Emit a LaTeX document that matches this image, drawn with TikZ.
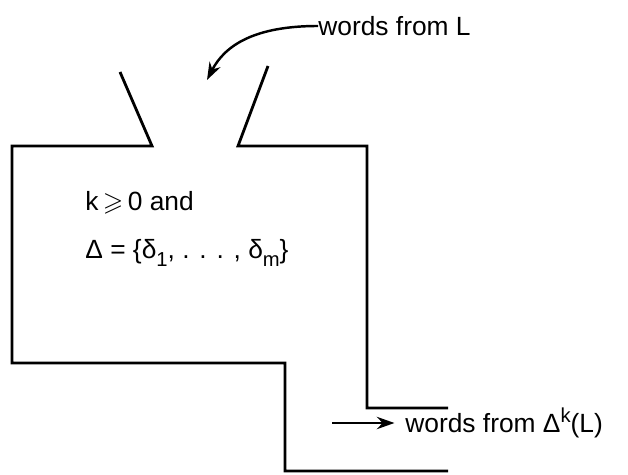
\documentclass[tikz,border=0pt]{standalone}
\usepackage{amssymb}
\usepackage{fontspec}
\setmainfont{Liberation Sans}
\usetikzlibrary{arrows.meta}
\newcommand{\lowidx}[1]{\raisebox{-0.55ex}{\fontsize{11.5}{12}\selectfont #1}}
\newcommand{\highidx}[1]{\raisebox{0.75ex}{\fontsize{11.5}{12}\selectfont #1}}

\begin{document}
\begin{tikzpicture}[x=0.02cm, y=-0.02cm, font=\fontsize{15}{18}\selectfont, >={Stealth[length=10pt,width=7pt]},
  wall/.style={draw=black, line width=1.6pt, line join=miter},
  lbl/.style={inner sep=0pt, anchor=west},
  flow/.style={->, line width=1.4pt}]
\useasboundingbox (0,0) rectangle (628,475);
% outline of the machine
\draw[wall] (448,471) -- (285,471) -- (285,363) -- (12,363) -- (12,146) -- (152,146) -- (120,72);
\draw[wall] (268,66) -- (238,146) -- (367,146) -- (367,408) -- (448,408);
% input
\node[lbl] (srcL) at (318,26) {words from L};
\coordinate (drop) at (207,80);
\draw[flow] (srcL.west) .. controls (255,26) and (225,45) .. (drop);
% contents
\node[lbl] (cond) at (85,203) {k\,$\geqslant$\,0 and};
\node[lbl] (delta) at (85,253) {Δ = \{δ\lowidx{1}, . . . , δ\lowidx{m}\}};
% output
\node[lbl] (outL) at (405,423) {words from Δ\highidx{k}(L)};
\coordinate (outstart) at (332,423);
\draw[flow, shorten >=6pt] (outstart) -- (outL.west);
\end{tikzpicture}
\end{document}
